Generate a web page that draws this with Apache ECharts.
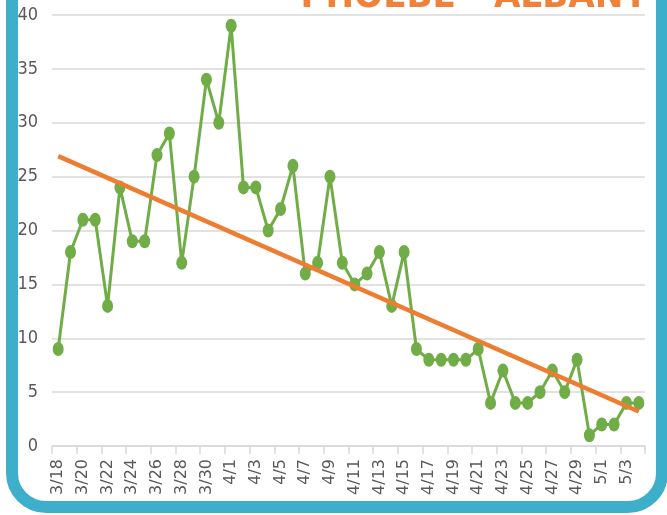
<!DOCTYPE html>
<html>
<head>
<meta charset="utf-8">
<script src="https://cdn.jsdelivr.net/npm/echarts@6/dist/echarts.min.js"></script>
<style>
html,body{margin:0;padding:0;background:#fff;}
#c{width:667px;height:515px;}
</style>
</head>
<body>
<div id="c"></div>
<script>
var categories = ['3/18','3/19','3/20','3/21','3/22','3/23','3/24','3/25','3/26','3/27','3/28','3/29','3/30','3/31',
  '4/1','4/2','4/3','4/4','4/5','4/6','4/7','4/8','4/9','4/10','4/11','4/12','4/13','4/14','4/15','4/16','4/17','4/18','4/19','4/20',
  '4/21','4/22','4/23','4/24','4/25','4/26','4/27','4/28','4/29','4/30','5/1','5/2','5/3','5/4'];
var counts = [9,18,21,21,13,24,19,19,27,29,17,25,34,30,
  39,24,24,20,22,26,16,17,25,17,15,16,18,13,18,9,8,8,8,8,
  9,4,7,4,4,5,7,5,8,1,2,2,4,4];
var trendStart = 26.9;
var trendEnd = 3.2;
var yTicks = [0,5,10,15,20,25,30,35,40];
var titleText = 'PHOEBE - ALBANY';

var chart = echarts.init(document.getElementById('c'));
var narrowFont = '"Liberation Sans Narrow","DejaVu Sans Condensed",Arial,sans-serif';
chart.setOption({
  backgroundColor: '#ffffff',
  animation: false,
  grid: {left: 52, right: 22, top: 15, bottom: 69, containLabel: false},
  xAxis: {
    type: 'category',
    data: categories,
    boundaryGap: true,
    axisLine: {lineStyle: {color: '#d9d9d9', width: 1.5}},
    axisTick: {show: true, interval: 1, length: 8, lineStyle: {color: '#d9d9d9', width: 1.5}},
    axisLabel: {interval: 1, rotate: 90, margin: 13, color: '#595959', fontSize: 16, fontFamily: '"DejaVu Sans",sans-serif'}
  },
  yAxis: {
    type: 'value',
    min: yTicks[0], max: yTicks[yTicks.length-1], interval: 5,
    axisLine: {show: false},
    axisTick: {show: false},
    axisLabel: {margin: 14, color: '#595959', fontSize: 18, fontFamily: narrowFont},
    splitLine: {lineStyle: {color: '#d9d9d9', width: 1.5}}
  },
  series: [
    {
      type: 'line',
      data: counts,
      symbol: 'circle',
      showAllSymbol: true,
      symbolSize: [11, 14],
      lineStyle: {color: '#70AD47', width: 3},
      itemStyle: {color: '#70AD47'},
      z: 2
    },
    {
      type: 'line',
      data: [[0, trendStart], [categories.length - 1, trendEnd]],
      symbol: 'none',
      lineStyle: {color: '#ED7D31', width: 4.5},
      z: 3
    }
  ],
  graphic: [
    {
      type: 'text',
      x: 648,
      y: 16,
      style: {
        text: titleText,
        fill: '#F0813A',
        textAlign: 'right',
        textVerticalAlign: 'bottom',
        font: 'bold 38px "Liberation Sans Narrow","DejaVu Sans Condensed",Arial,sans-serif'
      },
      z: 10
    },
    {
      type: 'rect',
      shape: {x: 12, y: -100, width: 650, height: 607, r: 34},
      style: {fill: 'none', stroke: '#3EAFCA', lineWidth: 12},
      z: 20
    },
    {
      type: 'rect',
      shape: {x: 0, y: -200, width: 667, height: 715 + 200, r: 0},
      style: {fill: 'none', stroke: '#ffffff', lineWidth: 12},
      z: 19
    }
  ]
});
</script>
</body>
</html>
